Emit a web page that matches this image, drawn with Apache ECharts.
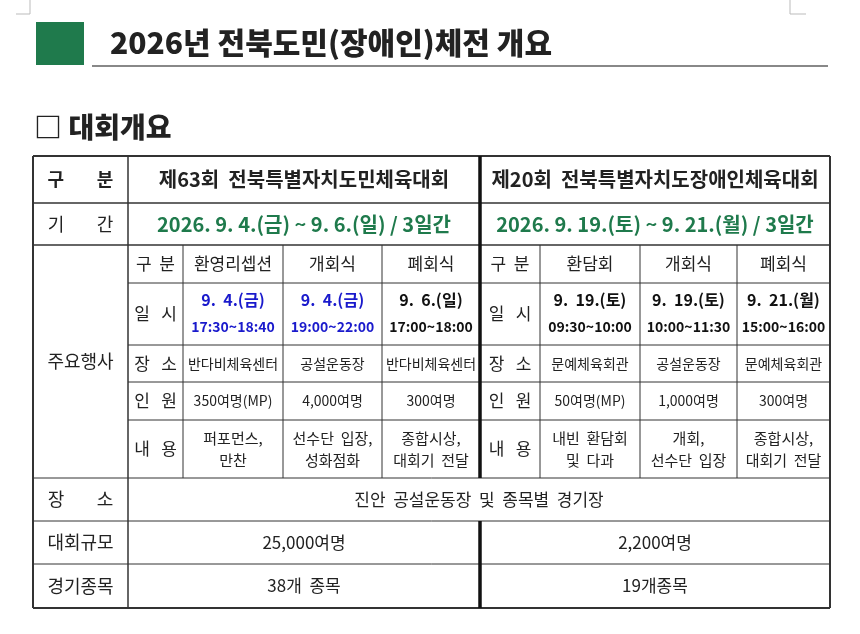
<!DOCTYPE html>
<html>
<head>
<meta charset="utf-8">
<script src="https://cdn.jsdelivr.net/npm/echarts@6/dist/echarts.min.js"></script>
<style>html,body{margin:0;padding:0;background:#fff}#main{width:860px;height:634px}</style>
</head>
<body>
<div id="main"></div>
<script>
// 표 내용
var pageTitle = '2026년 전북도민(장애인)체전 개요';
var sectionTitle = '□ 대회개요';
var eventNames = ['제63회  전북특별자치도민체육대회', '제20회  전북특별자치도장애인체육대회'];
var periods = ['2026. 9. 4.(금) ~ 9. 6.(일) / 3일간', '2026. 9. 19.(토) ~ 9. 21.(월) / 3일간'];
var subLabels = ['구  분', '일   시', '장   소', '인   원', '내   용'];
var leftCeremonies = ['환영리셉션', '개회식', '폐회식'];
var leftDates = ['9.  4.(금)', '9.  4.(금)', '9.  6.(일)'];
var leftTimes = ['17:30~18:40', '19:00~22:00', '17:00~18:00'];
var leftPlaces = ['반다비체육센터', '공설운동장', '반다비체육센터'];
var leftPeople = ['350여명(MP)', '4,000여명', '300여명'];
var leftContents = ['퍼포먼스,\n만찬', '선수단  입장,\n성화점화', '종합시상,\n대회기  전달'];
var rightCeremonies = ['환담회', '개회식', '폐회식'];
var rightDates = ['9.  19.(토)', '9.  19.(토)', '9.  21.(월)'];
var rightTimes = ['09:30~10:00', '10:00~11:30', '15:00~16:00'];
var rightPlaces = ['문예체육회관', '공설운동장', '문예체육회관'];
var rightPeople = ['50여명(MP)', '1,000여명', '300여명'];
var rightContents = ['내빈  환담회\n및  다과', '개회,\n선수단  입장', '종합시상,\n대회기  전달'];
var rowLabels = ['구        분', '기        간', '주요행사', '장        소', '대회규모', '경기종목'];
var venue = '진안  공설운동장  및  종목별  경기장';
var scales = ['25,000여명', '2,200여명'];
var sports = ['38개  종목', '19개종목'];

var FONT = '"Noto Sans CJK KR", sans-serif';
var GREEN = '#1f7a4c', BLUE = '#1a1acc';

var xs = [33, 128, 183, 283, 382, 480, 540, 640, 737, 830];
var ys = [156, 203, 245, 283, 345, 382, 420, 478, 521, 564, 608];

var els = [];
function line(x1, y1, x2, y2, w, c) {
	els.push({ type: 'line', shape: { x1: x1, y1: y1, x2: x2, y2: y2 },
		style: { stroke: c || '#333', lineWidth: w || 1 } });
}
function text(x, y, s, size, opt) {
	opt = opt || {};
	els.push({ type: 'text', x: x, y: y, style: {
		text: s, fontFamily: FONT, fontSize: size, fill: opt.color || '#222',
		fontWeight: opt.bold || 'normal', align: opt.align || 'center',
		verticalAlign: 'middle', lineHeight: opt.lh || size * 1.5 } });
}
function mid(a, b) { return (a + b) / 2; }

// 제목
els.push({ type: 'rect', shape: { x: 36, y: 22, width: 48, height: 43 }, style: { fill: GREEN } });
text(110, 43, pageTitle, 30, { bold: 900, align: 'left' });
line(92, 66, 828, 66, 2, '#888');
line(30, 0, 30, 14, 1, '#bbb'); line(16, 14, 30, 14, 1, '#bbb');
line(790, 0, 790, 14, 1, '#bbb'); line(790, 14, 806, 14, 1, '#bbb');
text(34, 127, sectionTitle, 28, { bold: 900, align: 'left' });

// 왼쪽 라벨 열
var labelRows = [[0, 1], [1, 2], [2, 7], [7, 8], [8, 9], [9, 10]];
labelRows.forEach(function (r, i) {
	text(mid(xs[0], xs[1]), mid(ys[r[0]], ys[r[1]]), rowLabels[i], 18, { bold: i === 0 ? 'bold' : 'normal' });
});

// 대회명, 기간
[[1, 5], [5, 9]].forEach(function (c, i) {
	text(mid(xs[c[0]], xs[c[1]]), mid(ys[0], ys[1]), eventNames[i], 20, { bold: 'bold' });
	text(mid(xs[c[0]], xs[c[1]]), mid(ys[1], ys[2]), periods[i], 20, { bold: 'bold', color: GREEN });
	text(mid(xs[c[0]], xs[c[1]]), mid(ys[8], ys[9]), scales[i], 17);
	text(mid(xs[c[0]], xs[c[1]]), mid(ys[9], ys[10]), sports[i], 17);
});
text(mid(xs[1], xs[9]), mid(ys[7], ys[8]), venue, 17);

// 주요행사 세부
function block(c0, cer, dates, times, places, people, contents, blue) {
	subLabels.forEach(function (l, i) {
		text(mid(xs[c0], xs[c0 + 1]), mid(ys[2 + i], ys[3 + i]), l, 17);
	});
	for (var k = 0; k < 3; k++) {
		var cx = mid(xs[c0 + 1 + k], xs[c0 + 2 + k]);
		var col = blue[k] ? BLUE : '#111';
		text(cx, mid(ys[2], ys[3]), cer[k], 17);
		text(cx, ys[3] + 17, dates[k], 16, { bold: 'bold', color: col });
		text(cx, ys[3] + 44, times[k], 14, { bold: 'bold', color: col });
		text(cx, mid(ys[4], ys[5]), places[k], 14);
		text(cx, mid(ys[5], ys[6]), people[k], 14);
		text(cx, mid(ys[6], ys[7]), contents[k], 15, { lh: 22 });
	}
}
block(1, leftCeremonies, leftDates, leftTimes, leftPlaces, leftPeople, leftContents, [1, 1, 0]);
block(5, rightCeremonies, rightDates, rightTimes, rightPlaces, rightPeople, rightContents, [0, 0, 0]);

// 격자선
line(xs[0], ys[0], xs[9], ys[0], 2);
line(xs[0], ys[10], xs[9], ys[10], 2);
line(xs[0], ys[0], xs[0], ys[10], 2);
line(xs[9], ys[0], xs[9], ys[10], 2);
[1, 2, 7, 8, 9].forEach(function (r) { line(xs[0], ys[r], xs[9], ys[r], r === 1 || r === 2 ? 1.5 : 1); });
[3, 4, 5, 6].forEach(function (r) { line(xs[1], ys[r], xs[9], ys[r], 1); });
line(xs[1], ys[0], xs[1], ys[10], 1.5);
line(xs[5], ys[0], xs[5], ys[7], 3.5, '#111');
line(xs[5], ys[8], xs[5], ys[10], 3.5, '#111');
[2, 3, 4, 6, 7, 8].forEach(function (c) { line(xs[c], ys[2], xs[c], ys[7], 1); });

var myChart = echarts.init(document.getElementById('main'));
myChart.setOption({ backgroundColor: '#fff', graphic: { elements: els } });
</script>
</body>
</html>
